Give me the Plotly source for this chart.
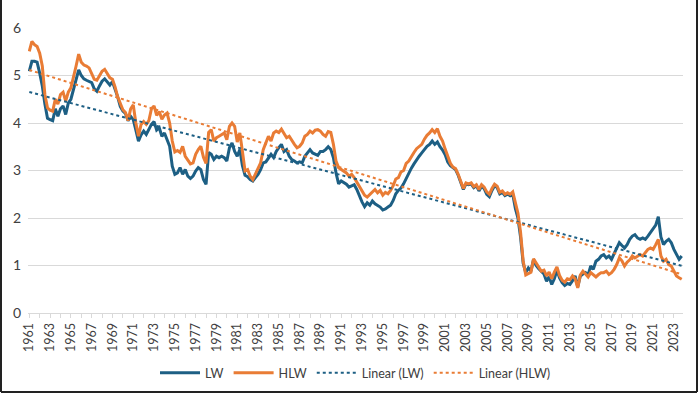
import numpy as np
import plotly.graph_objects as go

years = list(range(1961, 2024, 2))  # tick labels

lw = [5.09,5.30,5.30,5.28,5.05,4.78,4.40,4.10,4.07,4.05,4.30,4.14,4.30,4.36,4.18,4.42,
      4.50,4.72,4.95,5.12,5.00,4.93,4.90,4.88,4.85,4.72,4.67,4.78,4.88,4.93,4.86,4.80,
      4.87,4.73,4.55,4.35,4.25,4.20,4.05,4.14,4.07,3.85,3.62,3.75,3.83,3.76,3.86,3.97,
      4.03,3.85,3.90,3.72,3.79,3.65,3.51,3.09,2.92,2.95,3.06,2.92,3.02,2.88,2.83,2.88,
      2.99,3.06,3.02,2.81,2.71,3.38,3.34,3.23,3.30,3.27,3.30,3.27,3.20,3.48,3.58,3.40,
      3.30,3.44,3.10,2.90,2.87,2.81,2.78,2.85,2.92,3.02,3.16,3.18,3.25,3.34,3.27,3.40,
      3.48,3.55,3.40,3.44,3.30,3.23,3.20,3.16,3.18,3.16,3.30,3.37,3.44,3.37,3.34,3.32,
      3.40,3.40,3.44,3.50,3.44,3.27,2.95,2.72,2.78,2.74,2.71,2.65,2.67,2.70,2.60,2.46,
      2.34,2.24,2.32,2.27,2.36,2.30,2.26,2.23,2.17,2.19,2.23,2.27,2.37,2.51,2.58,2.63,
      2.72,2.84,2.95,3.05,3.14,3.23,3.30,3.37,3.44,3.51,3.55,3.62,3.55,3.60,3.50,3.43,
      3.33,3.18,3.10,3.05,3.02,2.90,2.73,2.60,2.72,2.70,2.72,2.64,2.68,2.57,2.67,2.62,
      2.50,2.45,2.58,2.68,2.64,2.51,2.54,2.47,2.50,2.47,2.50,2.20,2.00,1.60,1.05,0.85,
      0.95,0.88,1.13,1.00,0.93,0.88,0.82,0.67,0.76,0.60,0.72,0.90,0.74,0.64,0.58,0.62,
      0.60,0.68,0.78,0.55,0.78,0.82,0.85,0.80,0.99,0.92,1.09,1.13,1.20,1.23,1.16,1.20,
      1.13,1.25,1.38,1.48,1.42,1.37,1.44,1.55,1.62,1.65,1.58,1.55,1.58,1.55,1.62,1.69,
      1.76,1.85,2.03,1.60,1.44,1.51,1.55,1.48,1.34,1.23,1.13,1.20]

hlw = [5.51,5.72,5.65,5.61,5.47,5.20,4.60,4.32,4.27,4.25,4.50,4.40,4.60,4.65,4.46,4.65,
       4.74,4.95,5.20,5.45,5.28,5.22,5.20,5.16,5.05,4.92,4.90,4.99,5.09,5.13,5.05,4.95,
       4.92,4.76,4.55,4.40,4.28,4.22,4.05,4.30,4.38,4.00,3.72,3.97,4.03,3.97,4.05,4.30,
       4.36,4.16,4.24,4.08,4.17,4.21,4.00,3.62,3.39,3.42,3.38,3.51,3.30,3.22,3.14,3.16,
       3.34,3.44,3.51,3.28,3.15,3.80,3.86,3.62,3.69,3.72,3.76,3.79,3.65,3.93,4.00,3.93,
       3.60,3.79,3.40,2.99,3.02,2.88,2.81,2.92,3.02,3.16,3.44,3.58,3.72,3.62,3.79,3.83,
       3.80,3.87,3.77,3.69,3.72,3.62,3.55,3.48,3.51,3.58,3.72,3.76,3.83,3.79,3.85,3.86,
       3.83,3.76,3.72,3.82,3.80,3.55,3.20,3.06,3.02,2.99,2.95,2.88,2.92,2.85,2.76,2.68,
       2.56,2.48,2.44,2.50,2.55,2.60,2.53,2.58,2.48,2.54,2.51,2.58,2.68,2.82,2.85,2.97,
       3.00,3.15,3.20,3.30,3.38,3.46,3.51,3.55,3.66,3.74,3.79,3.86,3.80,3.88,3.72,3.62,
       3.45,3.28,3.15,3.07,3.04,2.92,2.75,2.62,2.74,2.72,2.74,2.66,2.70,2.60,2.70,2.65,
       2.55,2.50,2.62,2.71,2.67,2.54,2.57,2.50,2.53,2.50,2.55,2.30,2.10,1.70,1.10,0.80,
       0.83,0.86,1.14,1.05,0.95,0.88,0.90,0.78,0.86,0.72,0.86,0.97,0.79,0.69,0.65,0.72,
       0.70,0.78,0.72,0.53,0.80,0.88,0.82,0.76,0.85,0.80,0.76,0.81,0.85,0.85,0.88,0.81,
       0.85,0.92,1.02,1.16,1.10,0.99,1.07,1.12,1.20,1.16,1.20,1.23,1.20,1.27,1.34,1.37,
       1.34,1.44,1.55,1.20,1.09,1.13,1.02,0.99,0.88,0.78,0.74,0.71]

BLUE = "#1d5f84"
ORANGE = "#e97c35"

n = len(lw)
x = np.arange(n)
lw_fit = np.polyval(np.polyfit(x, lw, 1), x)
hlw_fit = np.polyval(np.polyfit(x, hlw, 1), x)

fig = go.Figure()
fig.add_trace(go.Scatter(x=x, y=lw, mode="lines", name="LW",
                         line=dict(color=BLUE, width=3)))
fig.add_trace(go.Scatter(x=x, y=hlw, mode="lines", name="HLW",
                         line=dict(color=ORANGE, width=3)))
fig.add_trace(go.Scatter(x=x, y=lw_fit, mode="lines", name="Linear (LW)",
                         line=dict(color=BLUE, width=2, dash="dot")))
fig.add_trace(go.Scatter(x=x, y=hlw_fit, mode="lines", name="Linear (HLW)",
                         line=dict(color=ORANGE, width=2, dash="dot")))

L, R, T, B = 28, 17, 28, 81
PW, PH = 700 - L - R, 394 - T - B

tickvals = [(yr - 1961) * 4 for yr in years]
fig.update_layout(
    width=700, height=394,
    margin=dict(l=L, r=R, t=T, b=B, autoexpand=False),
    paper_bgcolor="white", plot_bgcolor="white",
    font=dict(family="Lato, Open Sans, sans-serif", size=12, color="#404040"),
    showlegend=True,
    legend=dict(orientation="h", x=0.5, xanchor="center", y=-60/PH, yanchor="middle",
                font=dict(size=12.5, color="#404040"), itemwidth=40,
                traceorder="normal"),
    xaxis=dict(range=[-0.5, n - 0.5], tickvals=tickvals, ticktext=[str(y) for y in years],
               tickangle=-90, showgrid=False, zeroline=False, automargin=False,
               showline=True, linecolor="#d9d9d9", linewidth=1,
               ticks="outside", ticklen=4, tickcolor="#d9d9d9",
               minor=dict(tickvals=[(yr - 1961) * 4 for yr in range(1962, 2024, 2)],
                          ticks="outside", ticklen=4, tickcolor="#d9d9d9"),
               tickfont=dict(size=12.5, color="#404040")),
    yaxis=dict(range=[0, 6], dtick=1, showgrid=True, gridcolor="#d9d9d9", gridwidth=1,
               zeroline=False, showline=False, ticks="", automargin=False,
               ticklabelstandoff=6,
               tickfont=dict(size=14, color="#404040")),
)

# outer frame (left, right, bottom)
fx0 = -(L - 1) / PW
fx1 = 1 + (R - 3) / PW
fy0 = -(B - 2) / PH
fy1 = 1 + T / PH
fig.add_shape(type="line", xref="paper", yref="paper", x0=fx0, x1=fx0, y0=fy0, y1=fy1,
              line=dict(color="#222222", width=2))
fig.add_shape(type="line", xref="paper", yref="paper", x0=fx1, x1=fx1, y0=fy0, y1=fy1,
              line=dict(color="#222222", width=2))
fig.add_shape(type="line", xref="paper", yref="paper", x0=fx0, x1=fx1, y0=fy0, y1=fy0,
              line=dict(color="#222222", width=2))

fig.write_html("out.html", config={"displayModeBar": False},
               post_script="document.body.style.margin='0';document.body.style.overflow='hidden';")
